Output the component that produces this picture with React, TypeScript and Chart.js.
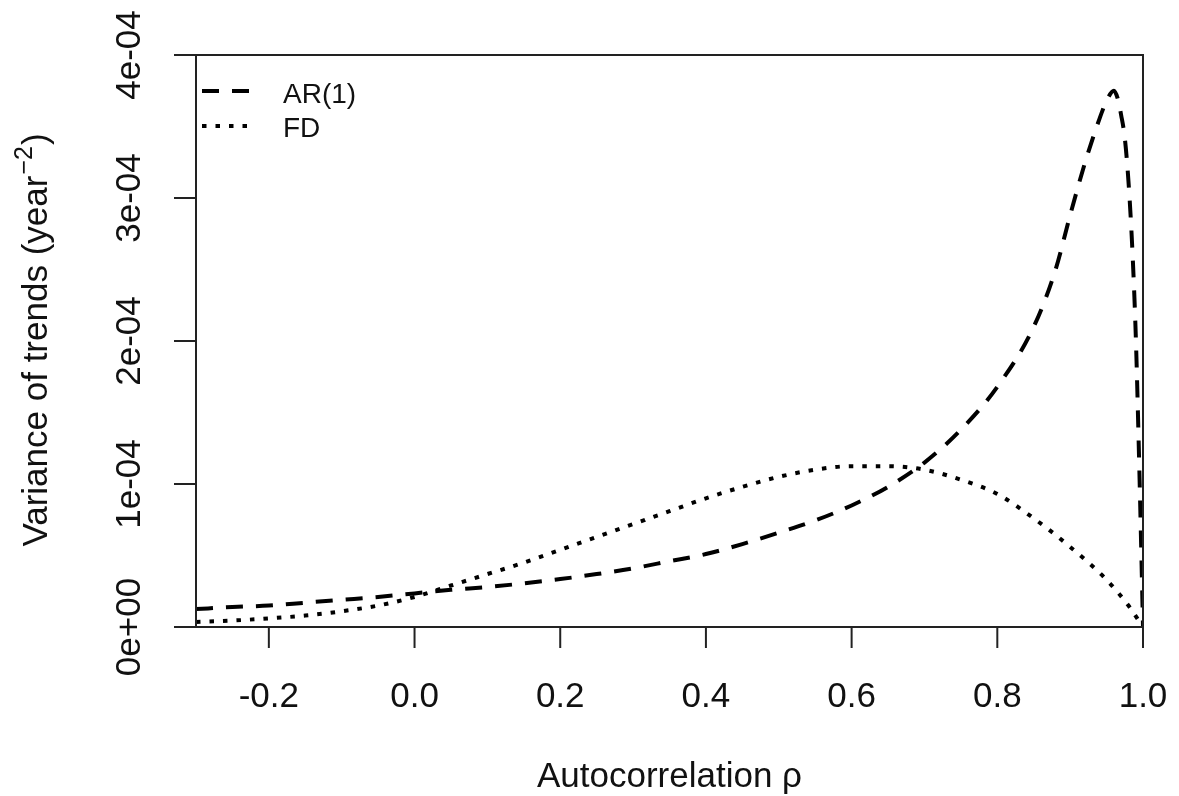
import React, { useEffect, useRef } from "react";
import { Chart, registerables } from "chart.js";

Chart.register(...registerables);

// ---- data ----
const rhoAR = [
  -0.3, -0.25, -0.2, -0.15, -0.1, -0.05, 0.0, 0.05, 0.1, 0.15, 0.2, 0.25, 0.3,
  0.35, 0.4, 0.45, 0.5, 0.55, 0.6, 0.65, 0.7, 0.75, 0.8, 0.85, 0.88, 0.9, 0.92,
  0.94, 0.95, 0.96, 0.965, 0.97, 0.975, 0.98, 0.985, 0.99, 0.995, 0.998, 1.0,
];
const varAR = [
  0.125e-4, 0.14e-4, 0.15e-4, 0.17e-4, 0.19e-4, 0.21e-4, 0.235e-4, 0.26e-4,
  0.28e-4, 0.305e-4, 0.335e-4, 0.37e-4, 0.41e-4, 0.46e-4, 0.51e-4, 0.58e-4,
  0.66e-4, 0.745e-4, 0.85e-4, 0.98e-4, 1.15e-4, 1.38e-4, 1.68e-4, 2.1e-4,
  2.5e-4, 2.88e-4, 3.24e-4, 3.55e-4, 3.68e-4, 3.75e-4, 3.7e-4, 3.58e-4,
  3.42e-4, 3.12e-4, 2.68e-4, 2.05e-4, 1.1e-4, 0.45e-4, 0.0,
];
const rhoFD = [
  -0.3, -0.25, -0.2, -0.15, -0.1, -0.05, 0.0, 0.05, 0.1, 0.15, 0.2, 0.25, 0.3,
  0.35, 0.4, 0.45, 0.5, 0.55, 0.6, 0.65, 0.7, 0.75, 0.8, 0.85, 0.9, 0.95, 0.98,
  1.0,
];
const varFD = [
  0.035e-4, 0.045e-4, 0.06e-4, 0.08e-4, 0.11e-4, 0.15e-4, 0.21e-4, 0.29e-4,
  0.37e-4, 0.45e-4, 0.54e-4, 0.63e-4, 0.72e-4, 0.81e-4, 0.9e-4, 0.98e-4,
  1.05e-4, 1.1e-4, 1.125e-4, 1.125e-4, 1.1e-4, 1.03e-4, 0.93e-4, 0.76e-4,
  0.56e-4, 0.33e-4, 0.15e-4, 0.0,
];
const seriesLabels = ["AR(1)", "FD"];
const xTicks = [-0.2, 0.0, 0.2, 0.4, 0.6, 0.8, 1.0];
const xTickLabels = ["-0.2", "0.0", "0.2", "0.4", "0.6", "0.8", "1.0"];
const yTicks = [0, 1e-4, 2e-4, 3e-4, 4e-4];
const yTickLabels = ["0e+00", "1e-04", "2e-04", "3e-04", "4e-04"];
const xTitle = "Autocorrelation \u03c1";
const yTitleMain = "Variance of trends (year";
const yTitleSup = "\u22122";
const yTitleEnd = ")";

const FONT = '"Liberation Sans", Arial, Helvetica, sans-serif';
const DASH_AR = [17, 13];
const DASH_FD = [4.5, 9];
const LINE_W = 4;

const axesPlugin = {
  id: "rAxes",
  afterDraw(chart: any) {
    const ctx = chart.ctx as CanvasRenderingContext2D;
    const { left, right, top, bottom } = chart.chartArea;
    const xs = chart.scales.x;
    const ys = chart.scales.y;
    ctx.save();
    ctx.strokeStyle = "#222";
    ctx.fillStyle = "#111";
    ctx.lineWidth = 2;
    ctx.setLineDash([]);
    // box
    ctx.strokeRect(left, top, right - left, bottom - top);
    // x ticks
    ctx.font = `35px ${FONT}`;
    ctx.textAlign = "center";
    ctx.textBaseline = "alphabetic";
    xTicks.forEach((v, i) => {
      const px = xs.getPixelForValue(v);
      ctx.beginPath();
      ctx.moveTo(px, bottom);
      ctx.lineTo(px, bottom + 21);
      ctx.stroke();
      ctx.fillText(xTickLabels[i], px, bottom + 80);
    });
    // y ticks
    yTicks.forEach((v, i) => {
      const py = ys.getPixelForValue(v);
      ctx.beginPath();
      ctx.moveTo(left, py);
      ctx.lineTo(left - 22, py);
      ctx.stroke();
      ctx.save();
      ctx.translate(left - 56, py);
      ctx.rotate(-Math.PI / 2);
      ctx.fillText(yTickLabels[i], 0, 0);
      ctx.restore();
    });
    // x title
    ctx.fillText(xTitle, (left + right) / 2, 787);
    // y title
    ctx.save();
    ctx.translate(47, (top + bottom) / 2);
    ctx.rotate(-Math.PI / 2);
    ctx.textAlign = "left";
    ctx.font = `35px ${FONT}`;
    const w1 = ctx.measureText(yTitleMain).width;
    const w3 = ctx.measureText(yTitleEnd).width;
    ctx.font = `25px ${FONT}`;
    const w2 = ctx.measureText(yTitleSup).width;
    const start = -(w1 + w2 + w3) / 2;
    ctx.font = `35px ${FONT}`;
    ctx.fillText(yTitleMain, start, 0);
    ctx.font = `25px ${FONT}`;
    ctx.fillText(yTitleSup, start + w1 + 1, -15);
    ctx.font = `35px ${FONT}`;
    ctx.fillText(yTitleEnd, start + w1 + w2 + 2, 0);
    ctx.restore();
    // legend
    ctx.strokeStyle = "#000";
    ctx.lineWidth = LINE_W;
    ctx.setLineDash(DASH_AR);
    ctx.beginPath();
    ctx.moveTo(left + 6, 91);
    ctx.lineTo(left + 55, 91);
    ctx.stroke();
    ctx.setLineDash(DASH_FD);
    ctx.beginPath();
    ctx.moveTo(left + 6, 126);
    ctx.lineTo(left + 58, 126);
    ctx.stroke();
    ctx.setLineDash([]);
    ctx.font = `28px ${FONT}`;
    ctx.textAlign = "left";
    ctx.fillText(seriesLabels[0], 283, 103);
    ctx.fillText(seriesLabels[1], 283, 137);
    ctx.restore();
  },
};

export default function App() {
  const ref = useRef<HTMLCanvasElement | null>(null);
  useEffect(() => {
    if (!ref.current) return;
    const chart = new Chart(ref.current, {
      type: "line",
      data: {
        datasets: [
          {
            label: seriesLabels[0],
            data: rhoAR.map((x, i) => ({ x, y: varAR[i] })),
            borderColor: "#000",
            borderWidth: LINE_W,
            borderDash: DASH_AR,
            pointRadius: 0,
            cubicInterpolationMode: "monotone",
            fill: false,
          },
          {
            label: seriesLabels[1],
            data: rhoFD.map((x, i) => ({ x, y: varFD[i] })),
            borderColor: "#000",
            borderWidth: LINE_W,
            borderDash: DASH_FD,
            pointRadius: 0,
            cubicInterpolationMode: "monotone",
            fill: false,
          },
        ],
      },
      options: {
        responsive: false,
        animation: false,
        devicePixelRatio: 1,
        events: [],
        layout: { padding: { left: 196, top: 55, right: 36, bottom: 169 } },
        scales: {
          x: { type: "linear", min: -0.3, max: 1.0, display: false },
          y: { type: "linear", min: 0, max: 4e-4, display: false },
        },
        plugins: { legend: { display: false }, tooltip: { enabled: false } },
      },
      plugins: [axesPlugin],
    } as any);
    return () => chart.destroy();
  }, []);
  return (
    <div style={{ position: "absolute", left: 0, top: 0, width: 1179, height: 796, background: "#fff" }}>
      <canvas ref={ref} width={1179} height={796} style={{ display: "block" }} />
    </div>
  );
}
